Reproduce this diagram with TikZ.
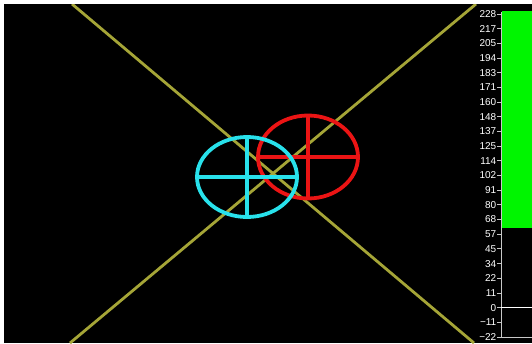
\documentclass[tikz,border=0pt]{standalone}
\usepackage{fontspec}
\setmainfont{Liberation Sans}
\usetikzlibrary{shapes.geometric}
\definecolor{olivel}{RGB}{165,165,55}
\definecolor{cyanc}{RGB}{40,225,235}
\definecolor{redc}{RGB}{235,20,20}
\definecolor{greenb}{RGB}{0,245,0}
\definecolor{axisg}{RGB}{200,200,200}
\tikzset{
  target/.style={ellipse, draw, line width=3.8pt, inner sep=0pt},
  xline/.style={olivel, line width=2.8pt},
  ticklab/.style={text=white, anchor=east, inner sep=0pt, font=\fontsize{10}{10}\selectfont},
}
\begin{document}
\begin{tikzpicture}[x=1pt,y=-1pt]
\useasboundingbox (0,0) rectangle (532,343);
\fill[black] (0,0) rectangle (532,343);
\fill[white] (0,0) rectangle (4,343);
\fill[white] (0,0) rectangle (532,4);
% X lines
\begin{scope}
\clip (4,4) rectangle (532,343);
\coordinate (a1) at (72,4);
\coordinate (a2) at (474,343);
\coordinate (b1) at (70,343);
\coordinate (b2) at (476,4);
\draw[xline] (a1) -- (a2);
\draw[xline] (b1) -- (b2);
\end{scope}
% targets
\node[target, draw=redc, minimum width=100pt, minimum height=83pt] (red) at (308,157) {};
\draw[redc, line width=3.8pt] (red.north) -- (red.south);
\draw[redc, line width=3.8pt] (red.west) -- (red.east);
\node[target, draw=cyanc, minimum width=100pt, minimum height=80pt] (cy) at (247,177) {};
\draw[cyanc, line width=3.8pt] (cy.north) -- (cy.south);
\draw[cyanc, line width=3.8pt] (cy.west) -- (cy.east);
% bar
\fill[greenb] (501.5,11) rectangle (532,228);
\coordinate (ax1) at (501,12);
\coordinate (ax2) at (501,338);
\draw[axisg, line width=0.8pt] (ax1) -- (ax2);
\foreach \v [count=\i from 0] in {228,217,205,194,183,171,160,148,137,125,114,102,91,80,68,57,45,34,22,11,0,−11,−22}{
  \pgfmathsetmacro{\yy}{14+14.68*\i}
  \draw[axisg, line width=0.8pt] (497,\yy) -- (501,\yy);
  \node[ticklab] (l\i) at (496.5,\yy) {\v};
}
\coordinate (z1) at (501,307.6);
\coordinate (z2) at (532,307.6);
\draw[white, line width=1pt] (z1) -- (z2);
\coordinate (m1) at (501,337);
\coordinate (m2) at (532,337);
\draw[axisg, line width=1pt] (m1) -- (m2);
\end{tikzpicture}
\end{document}
